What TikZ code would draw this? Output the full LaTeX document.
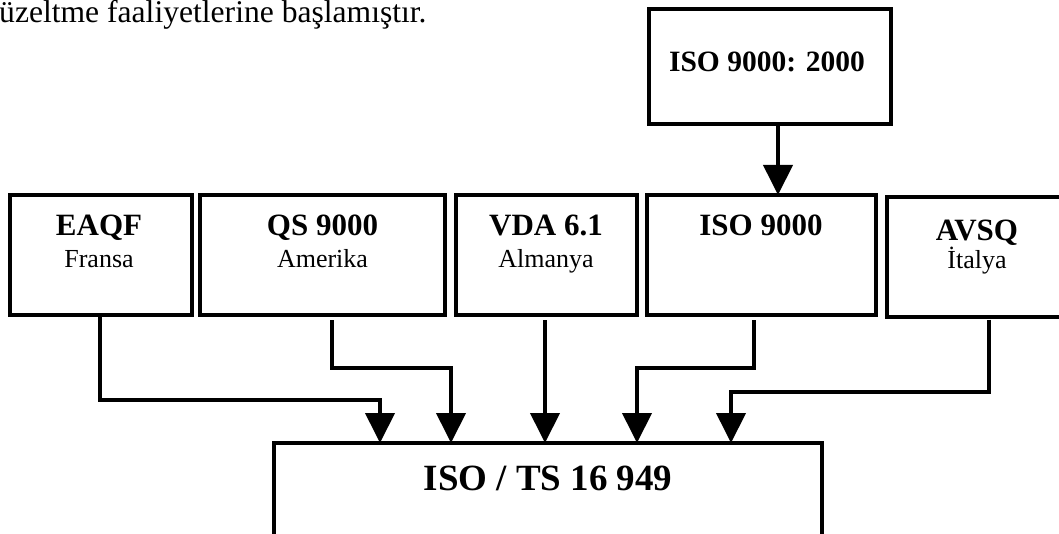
\documentclass[tikz,border=0pt]{standalone}
\usepackage{fontspec}
\setmainfont{Liberation Serif}
\usetikzlibrary{arrows.meta}
\begin{document}
\begin{tikzpicture}[x=1pt,y=-1pt,
  box/.style={draw, line width=4pt, rectangle, outer sep=0pt, inner sep=0pt},
  conn/.style={line width=4pt, -{Triangle[length=30pt,width=29pt]}},
  ttl/.style={anchor=base, inner sep=0pt, font=\fontsize{31}{37}\selectfont\bfseries},
  sub/.style={anchor=base, inner sep=0pt, font=\fontsize{26}{31}\selectfont},
]
\useasboundingbox (0,0) rectangle (1059,534);
\clip (0,0) rectangle (1059,534);

% intro text
\node[anchor=base west, inner sep=0pt, font=\fontsize{31.6}{37}\selectfont] (intro) at (-1,23) {üzeltme faaliyetlerine başlamıştır.};

% boxes
\node[box, minimum width=242pt, minimum height=115pt] (top) at (770,66.5) {};
\node[box, minimum width=182pt, minimum height=120pt] (eaqf) at (101,255) {};
\node[box, minimum width=245pt, minimum height=120pt] (qs) at (322.5,255) {};
\node[box, minimum width=181pt, minimum height=120pt] (vda) at (546.5,255) {};
\node[box, minimum width=229pt, minimum height=120pt] (iso) at (761.5,255) {};
\node[box, minimum width=180pt, minimum height=119pt] (avsq) at (977,257) {};
\node[box, line width=3.5pt, minimum width=548pt, minimum height=157pt] (bot) at (548,521.5) {};

% texts
\node[anchor=base, inner sep=0pt, font=\fontsize{29.5}{35}\selectfont\bfseries] (topT) at (767,72) {ISO 9000: 2000};
\node[ttl] (eaqfT) at (99,236) {EAQF};
\node[sub] (eaqfS) at (99,268) {Fransa};
\node[ttl] (qsT) at (322.5,236) {QS 9000};
\node[sub] (qsS) at (322.5,268) {Amerika};
\node[ttl] (vdaT) at (546,236) {VDA 6.1};
\node[sub] (vdaS) at (546,268) {Almanya};
\node[ttl] (isoT) at (761,236) {ISO 9000};
\node[ttl] (avsqT) at (977,241) {AVSQ};
\node[sub] (avsqS) at (977,269) {İtalya};
\node[anchor=base, inner sep=0pt, font=\fontsize{37}{44}\selectfont\bfseries] (botT) at (548,490) {ISO / TS 16 949};

% bend coordinates
\coordinate (k1) at (100,400);
\coordinate (e1) at (380,400);
\coordinate (k2) at (332,368);
\coordinate (e2) at (451,368);
\coordinate (k3) at (545,320);
\coordinate (k4) at (754,368);
\coordinate (e4) at (637,368);
\coordinate (k5) at (989,392);
\coordinate (e5) at (731,392);
\coordinate (t1) at (778,0);

% connectors
\draw[conn] (t1 |- top.south) -- (t1 |- iso.north);
\draw[conn] (k1 |- eaqf.south) -- (k1) -- (e1) -- (e1 |- bot.north);
\draw[conn] ([yshift=-5pt]k2 |- qs.south) -- (k2) -- (e2) -- (e2 |- bot.north);
\draw[conn] ([yshift=-5pt]k3 |- vda.south) -- (k3 |- bot.north);
\draw[conn] ([yshift=-5pt]k4 |- iso.south) -- (k4) -- (e4) -- (e4 |- bot.north);
\draw[conn] ([yshift=-3pt]k5 |- avsq.south) -- (k5) -- (e5) -- (e5 |- bot.north);
\end{tikzpicture}
\end{document}
